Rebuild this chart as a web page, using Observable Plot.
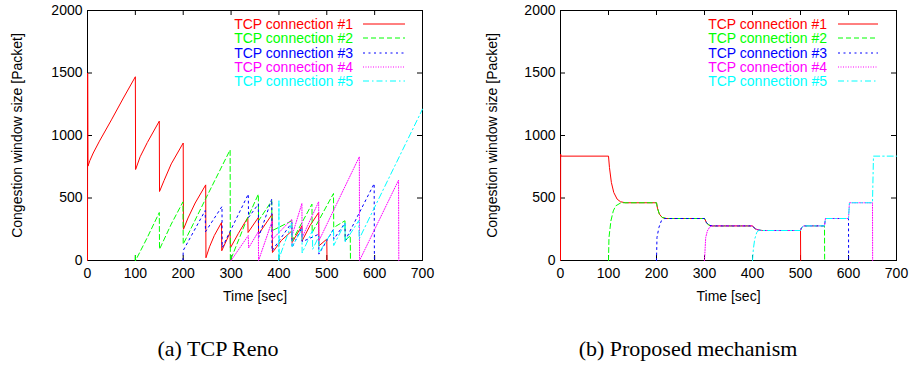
<!DOCTYPE html>
<html><head><meta charset="utf-8">
<script src="https://cdn.jsdelivr.net/npm/d3@7"></script>
<script src="https://cdn.jsdelivr.net/npm/@observablehq/plot@0.6"></script>
<style>
body{margin:0;background:#fff;}
#wrap{position:relative;width:911px;height:370px;overflow:hidden;font-family:"Liberation Sans",Arial,sans-serif;background:#fff;}
.panel{position:absolute;top:0;}
.lg{position:absolute;font-size:14px;line-height:16px;white-space:nowrap;}
.cap{position:absolute;top:336px;font-family:"Liberation Serif","Times New Roman",serif;font-size:22px;line-height:26px;transform:translateX(-50%);white-space:nowrap;color:#000;}
</style></head>
<body><div id="wrap"></div>
<script>
// ---- labels & styling data ----
const seriesNames = ["TCP connection #1","TCP connection #2","TCP connection #3","TCP connection #4","TCP connection #5"];
const seriesColors = ["#ff0000","#00ff00","#0000ff","#ff00ff","#00ffff"];
const seriesDash = [null,"5,3","2,3.5","1,1.5","6,3,1.5,3"];
const xTicks = [0,100,200,300,400,500,600,700];
const yTicks = [0,500,1000,1500,2000];
const captions = ["(a) TCP Reno","(b) Proposed mechanism"];
const xLabel = "Time [sec]";
const yLabel = "Congestion window size [Packet]";

// ---- (a) TCP Reno : [time sec, cwnd packets] ----
const reno1 = [[0,0],[0.3,1500],[1,755],[5,800],[12,860],[25,955],[50,1125],[75,1300],[100,1470],[100.5,728],[110,830],[125,944],[150,1115],[150.5,552],[160,640],[175,773],[200,940],[200.5,250],[210,340],[225,460],[247,605],[247.5,22],[255,110],[265,200],[280,304],[280.5,78],[298,224],[298.5,100],[315,215],[335,344],[335.5,224],[357,344],[357.5,211],[386,371],[386.5,64],[405,160],[427,237],[427.5,144],[448,277],[448.5,157],[465,280],[483,384],[483.5,117],[500,171],[500.5,0]];
const reno2 = [[100,0],[100.2,50],[100.5,0],[125,184],[150,384],[150.5,90],[175,291],[199.5,469],[200,130],[246,487],[298,885],[298.5,0],[330,300],[357,531],[357.5,318],[385,478],[385.5,238],[427,318],[427.5,157],[469,451],[469.5,224],[514,536],[514.5,264],[538,318],[538.5,157],[549,200],[549.5,0]];
const reno3 = [[199.5,0],[200,80],[246,400],[246.5,230],[281,432],[281.5,104],[336,531],[336.5,344],[357,451],[357.5,184],[385,491],[385.5,77],[427,304],[427.5,104],[448,264],[448.5,150],[483,210],[483.5,51],[514,250],[514.5,170],[538,300],[538.5,160],[599,615],[599.5,0]];
const reno4 = [[300,0],[336,200],[336.5,100],[357,230],[357.5,0],[386,318],[386.5,170],[427,330],[427.5,200],[448,456],[448.5,184],[483,470],[483.5,157],[568,830],[568.5,0],[650,643],[650.5,0]];
const reno5 = [[399.5,0],[400,478],[400.5,20],[427,300],[427.5,110],[448,250],[448.5,60],[470,240],[470.5,90],[483,190],[483.5,60],[514,250],[514.5,120],[538,300],[538.5,150],[567,320],[567.5,171],[700,1211]];

// ---- (b) Proposed mechanism ----
const prop1 = [[0,0],[0.3,850],[1,835],[100,835],[102,744],[106,624],[111,544],[118,491],[125,470],[135,462],[200,462],[202,419],[206,371],[212,344],[220,336],[300,336],[304,304],[309,283],[316,277],[400,277],[402,268],[406,252],[413,243],[420,240],[500,240],[500.3,0]];
const prop2 = [[100,0],[101,184],[105,317],[110,397],[115,437],[126,462],[200,462],[202,419],[206,371],[212,344],[220,336],[300,336],[304,304],[309,283],[316,277],[400,277],[402,268],[406,252],[413,243],[420,240],[500,240],[502,262],[507,277],[550,277],[550.3,0]];
const prop3 = [[200,0],[201,184],[205,264],[210,317],[217,336],[300,336],[304,304],[309,283],[316,277],[400,277],[402,268],[406,252],[413,243],[420,240],[500,240],[502,262],[507,277],[550,277],[552,336],[600,336],[600.3,0]];
const prop4 = [[300,0],[302.5,184],[306,237],[311,269],[316,277],[400,277],[402,268],[406,252],[413,243],[420,240],[500,240],[502,262],[507,277],[550,277],[552,336],[600,336],[602,462],[650,462],[650.3,0]];
const prop5 = [[400,0],[401.8,91],[404.6,171],[408.8,224],[413.5,243],[420,240],[500,240],[502,262],[507,277],[550,277],[552,336],[600,336],[602,462],[650,462],[652,835],[700,835]];

const panels = [
  {left:0, width:455, ml:87, mr:33, series:[reno1,reno2,reno3,reno4,reno5], textRight:353, lx0:363, lx1:405, capX:218, yLabelX:18},
  {left:455, width:456, ml:105, mr:15, series:[prop1,prop2,prop3,prop4,prop5], textRight:372, lx0:383, lx1:423, capX:688, yLabelX:38}
];
const legendRows = [24,38.3,52.6,66.9,81.2];

const wrap = document.getElementById("wrap");
const H = 310, mt = 10, mb = 50;

panels.forEach((p, pi) => {
  const pw = p.width - p.ml - p.mr, ph = H - mt - mb;
  const chart = Plot.plot({
    width: p.width, height: H,
    marginLeft: p.ml, marginRight: p.mr, marginTop: mt, marginBottom: mb,
    style: {fontFamily: "Liberation Sans, Arial, sans-serif", fontSize: "14px", color: "#000", background: "transparent", overflow: "visible"},
    x: {domain: [0, 700]},
    y: {domain: [0, 2000]},
    marks: [
      Plot.frame({stroke: "#000", strokeWidth: 1}),
      Plot.tickY(yTicks, {y: d => d, insetRight: pw - 5, stroke: "#000"}),
      Plot.tickY(yTicks, {y: d => d, insetLeft: pw - 5, stroke: "#000"}),
      Plot.tickX(xTicks, {x: d => d, insetTop: ph - 5, stroke: "#000"}),
      Plot.tickX(xTicks, {x: d => d, insetBottom: ph - 5, stroke: "#000"}),
      ...p.series.map((pts, i) => Plot.line(pts, {x: d => d[0], y: d => d[1], stroke: seriesColors[i], strokeWidth: 1, strokeDasharray: seriesDash[i]})),
      Plot.axisX(xTicks, {tickSize: 0, tickPadding: 8, tickFormat: d => String(d), label: xLabel, labelAnchor: "center", labelArrow: "none", labelOffset: 40}),
      Plot.axisY(yTicks, {tickSize: 0, tickPadding: 5, tickFormat: d => String(d), label: yLabel, labelAnchor: "center", labelArrow: "none", labelOffset: p.ml - (p.yLabelX - 6)})
    ]
  });
  const div = document.createElement("div");
  div.className = "panel";
  div.style.left = p.left + "px";
  div.style.width = p.width + "px";
  div.appendChild(chart);
  // legend
  seriesNames.forEach((name, i) => {
    const t = document.createElement("div");
    t.className = "lg";
    t.textContent = name;
    t.style.color = seriesColors[i];
    t.style.right = (p.width - p.textRight) + "px";
    t.style.top = (legendRows[i] - 8) + "px";
    div.appendChild(t);
    const s = document.createElementNS("http://www.w3.org/2000/svg", "svg");
    s.setAttribute("width", p.lx1 - p.lx0);
    s.setAttribute("height", 4);
    s.style.position = "absolute";
    s.style.left = p.lx0 + "px";
    s.style.top = (legendRows[i] - 2) + "px";
    const ln = document.createElementNS("http://www.w3.org/2000/svg", "line");
    ln.setAttribute("x1", 0); ln.setAttribute("x2", p.lx1 - p.lx0);
    ln.setAttribute("y1", 2); ln.setAttribute("y2", 2);
    ln.setAttribute("stroke", seriesColors[i]);
    ln.setAttribute("stroke-width", 1);
    if (seriesDash[i]) ln.setAttribute("stroke-dasharray", seriesDash[i]);
    s.appendChild(ln);
    div.appendChild(s);
  });
  wrap.appendChild(div);
  const cap = document.createElement("div");
  cap.className = "cap";
  cap.style.left = p.capX + "px";
  cap.textContent = captions[pi];
  wrap.appendChild(cap);
});
</script>
</body></html>
